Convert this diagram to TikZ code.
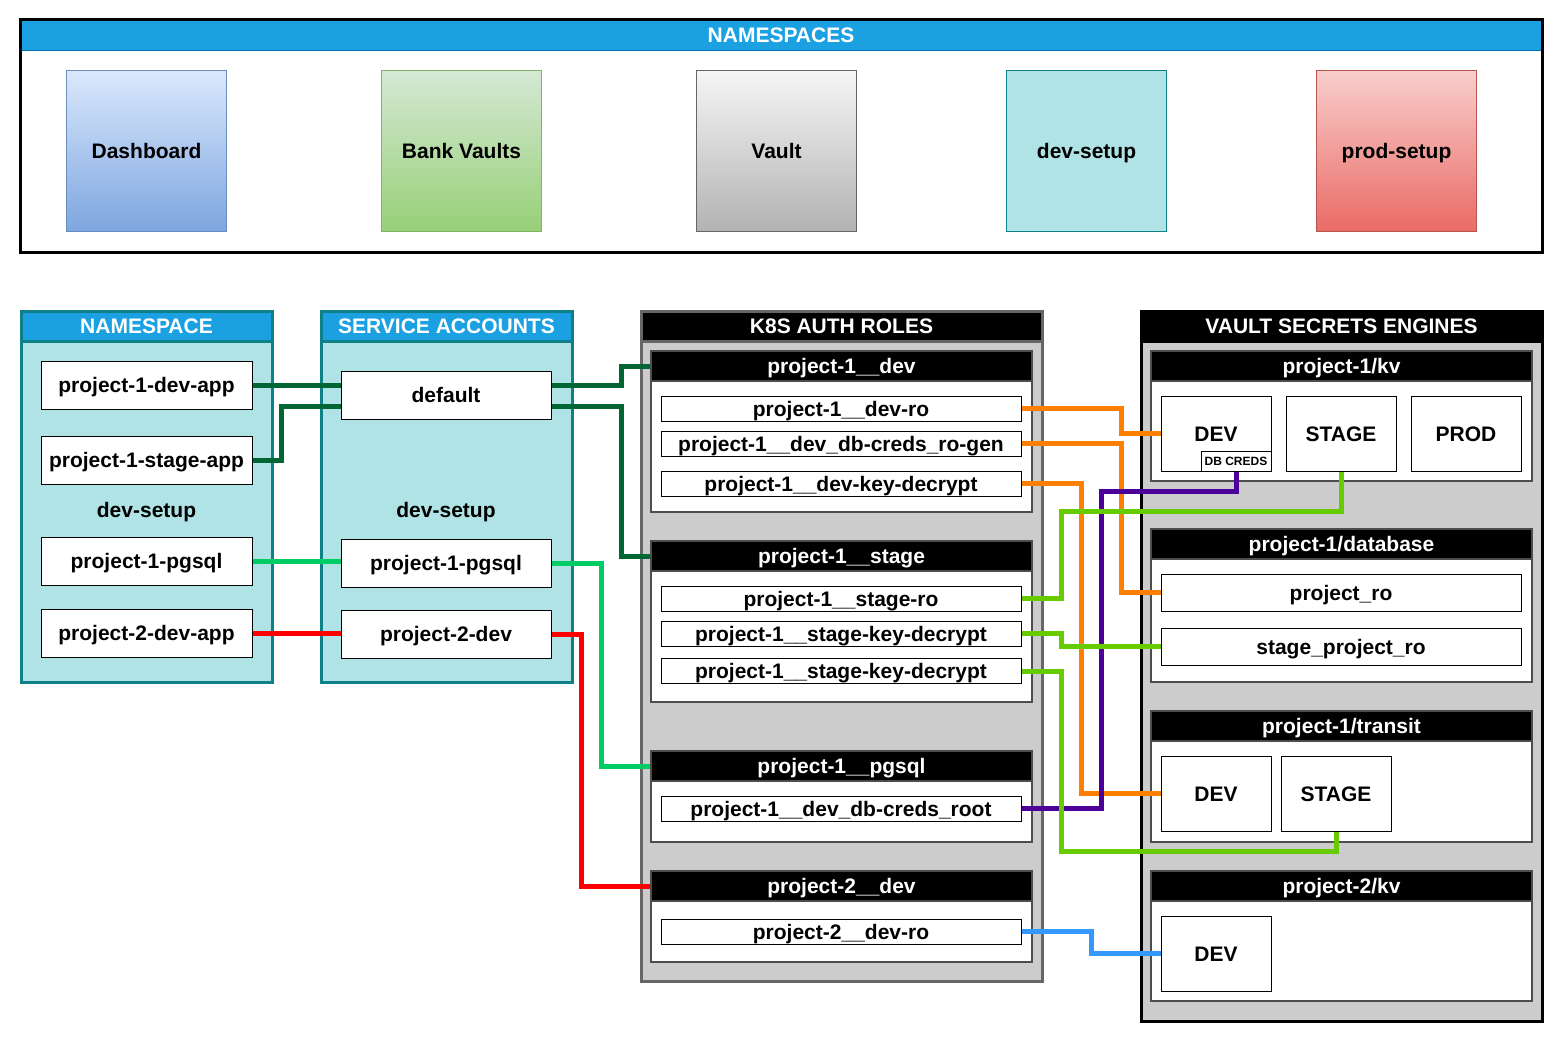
\documentclass[tikz,border=0pt]{standalone}
\usepackage{fontspec}
\setmainfont{Liberation Sans}
\usepackage{tikz}

\definecolor{nsblue}{HTML}{1BA1E2}
\definecolor{nsblueline}{HTML}{006EAF}
\definecolor{tealline}{HTML}{0E8088}
\definecolor{tealfill}{HTML}{B0E3E6}
\definecolor{panelgray}{HTML}{CCCCCC}
\definecolor{panelline}{HTML}{666666}
\definecolor{subline}{HTML}{4D4D4D}
\definecolor{dashtop}{HTML}{DAE8FC}
\definecolor{dashbot}{HTML}{7EA6E0}
\definecolor{dashline}{HTML}{6C8EBF}
\definecolor{banktop}{HTML}{D5E8D4}
\definecolor{bankbot}{HTML}{97D077}
\definecolor{bankline}{HTML}{82B366}
\definecolor{vaulttop}{HTML}{F5F5F5}
\definecolor{vaultbot}{HTML}{B3B3B3}
\definecolor{prodtop}{HTML}{F8CECC}
\definecolor{prodbot}{HTML}{EA6B66}
\definecolor{prodline}{HTML}{B85450}
\definecolor{dkgreen}{HTML}{006633}
\definecolor{ltgreen}{HTML}{00CC66}
\definecolor{orangeline}{HTML}{FF8000}
\definecolor{purpleline}{HTML}{4C0099}
\definecolor{limeline}{HTML}{66CC00}
\definecolor{blueline}{HTML}{3399FF}

\begin{document}
\begin{tikzpicture}[x = 1pt, y = -1pt, line width = 1pt,
    every node/.style = {font = \fontsize{21}{25}\selectfont\bfseries, text height = 15pt, text depth = 0pt, inner sep = 0pt},
    nsbox/.style = {draw, minimum width = 160pt, minimum height = 160pt},
    bluepanel/.style = {draw = tealline, fill = tealfill, line width = 3pt, minimum width = 251pt, minimum height = 371pt},
    bluehdr/.style = {draw = tealline, fill = nsblue, text = white, line width = 3pt, minimum width = 251pt, minimum height = 30pt, anchor = north},
    graypanel/.style = {fill = panelgray, line width = 3pt, minimum width = 401pt},
    blackhdr/.style = {fill = black, text = white, line width = 3pt, minimum width = 401pt, minimum height = 30pt, anchor = north},
    subpanel/.style = {draw = subline, fill = white, line width = 2pt, minimum width = 381pt},
    subhdr/.style = {draw = subline, fill = black, text = white, line width = 2pt, minimum width = 381pt, minimum height = 30pt, anchor = north},
    item/.style = {draw, fill = white, minimum width = 211pt, minimum height = 48pt},
    role/.style = {draw, fill = white, minimum width = 360pt, minimum height = 25pt},
    engine/.style = {draw, fill = white, minimum width = 110pt, minimum height = 75pt},
    link/.style = {line width = 5pt}]
    \useasboundingbox (0, 0) rectangle (1563, 1043);

    % namespaces overview
    \node [fill = white, minimum width = 1521pt, minimum height = 231pt] (nsall) at (781, 136) {};
    \node [fill = nsblue, draw = nsblueline, text = white, minimum width = 1521pt, minimum height = 30pt, anchor = north] (nsallhdr) at (nsall.north) {NAMESPACES};
    \draw [line width = 3pt] (nsall.north west) rectangle (nsall.south east);
    \node [nsbox, draw = dashline, top color = dashtop, bottom color = dashbot] (dashboard) at (146.5, 151) {Dashboard};
    \node [nsbox, draw = bankline, top color = banktop, bottom color = bankbot] (bankvaults) at (461.5, 151) {Bank Vaults};
    \node [nsbox, draw = panelline, top color = vaulttop, bottom color = vaultbot] (vaultns) at (776.5, 151) {Vault};
    \node [nsbox, draw = tealline, fill = tealfill] (devsetup) at (1086.5, 151) {dev-setup};
    \node [nsbox, draw = prodline, top color = prodtop, bottom color = prodbot] (prodsetup) at (1396.5, 151) {prod-setup};

    % namespace and service accounts
    \node [bluepanel] (nspanel) at (146.5, 496.5) {};
    \node [bluehdr] (nshdr) at (nspanel.north) {NAMESPACE};
    \node [item] (devapp) at (146.5, 385) {project-1-dev-app};
    \node [item] (stageapp) at (146.5, 460) {project-1-stage-app};
    \node (nsname) at (146.5, 510) {dev-setup};
    \node [item] (nspgsql) at (146.5, 561) {project-1-pgsql};
    \node [item] (p2devapp) at (146.5, 633) {project-2-dev-app};

    \node [bluepanel] (sapanel) at (446.5, 496.5) {};
    \node [bluehdr] (sahdr) at (sapanel.north) {SERVICE ACCOUNTS};
    \node [item, minimum width = 210pt] (default) at (446, 395) {default};
    \node (saname) at (446, 510) {dev-setup};
    \node [item, minimum width = 210pt] (sapgsql) at (446, 563) {project-1-pgsql};
    \node [item, minimum width = 210pt] (sap2dev) at (446, 634) {project-2-dev};

    % k8s auth roles
    \node [graypanel, draw = panelline, minimum height = 670pt] (k8s) at (841.5, 646) {};
    \node [blackhdr, draw = panelline] (k8shdr) at (k8s.north) {K8S AUTH ROLES};
    \node [subpanel, minimum height = 161pt] (dev) at (841.5, 431.5) {};
    \node [subhdr] (devhdr) at (dev.north) {project-1\_\_dev};
    \node [role] (devro) at (841, 408.5) {project-1\_\_dev-ro};
    \node [role] (rogen) at (841, 443.5) {project-1\_\_dev\_db-creds\_ro-gen};
    \node [role] (devkey) at (841, 483.5) {project-1\_\_dev-key-decrypt};

    \node [subpanel, minimum height = 161pt] (stage) at (841.5, 621.5) {};
    \node [subhdr] (stagehdr) at (stage.north) {project-1\_\_stage};
    \node [role] (stagero) at (841, 598.5) {project-1\_\_stage-ro};
    \node [role] (stagekey) at (841, 633.5) {project-1\_\_stage-key-decrypt};
    \node [role] (stagekeyb) at (841, 671) {project-1\_\_stage-key-decrypt};

    \node [subpanel, minimum height = 91pt] (pgsql) at (841.5, 796.5) {};
    \node [subhdr] (pgsqlhdr) at (pgsql.north) {project-1\_\_pgsql};
    \node [role] (credsroot) at (841, 808.5) {project-1\_\_dev\_db-creds\_root};

    \node [subpanel, minimum height = 91pt] (ptwo) at (841.5, 916.5) {};
    \node [subhdr] (ptwohdr) at (ptwo.north) {project-2\_\_dev};
    \node [role] (ptwodevro) at (841, 931.5) {project-2\_\_dev-ro};

    % vault secrets engines
    \node [graypanel, draw = black, minimum height = 710pt] (vault) at (1341.5, 666) {};
    \node [blackhdr, draw = black] (vaulthdr) at (vault.north) {VAULT SECRETS ENGINES};
    \node [subpanel, minimum height = 130pt] (kv) at (1341.5, 416) {};
    \node [subhdr] (kvhdr) at (kv.north) {project-1/kv};
    \node [engine] (kvdev) at (1216, 433.5) {DEV};
    \node [engine] (kvstage) at (1341, 433.5) {STAGE};
    \node [engine] (kvprod) at (1466, 433.5) {PROD};
    \node [draw, fill = white, minimum width = 70pt, minimum height = 20pt, font = \fontsize{12}{14}\selectfont\bfseries, text height = 8.6pt, anchor = south east] (dbcreds) at (kvdev.south east) {DB CREDS};

    \node [subpanel, minimum height = 153pt] (db) at (1341.5, 605.5) {};
    \node [subhdr] (dbhdr) at (db.north) {project-1/database};
    \node [role, minimum height = 37pt] (projro) at (1341, 592.5) {project\_ro};
    \node [role, minimum height = 37pt] (stageprojro) at (1341, 646.5) {stage\_project\_ro};

    \node [subpanel, minimum height = 131pt] (transit) at (1341.5, 776.5) {};
    \node [subhdr] (transithdr) at (transit.north) {project-1/transit};
    \node [engine] (trdev) at (1216, 793.5) {DEV};
    \node [engine] (trstage) at (1336, 793.5) {STAGE};

    \node [subpanel, minimum height = 130pt] (kvb) at (1341.5, 936) {};
    \node [subhdr] (kvbhdr) at (kvb.north) {project-2/kv};
    \node [engine] (kvbdev) at (1216, 953.5) {DEV};

    % connectors
    \draw [link, dkgreen] (devapp.east) -- ([yshift = 10pt]default.west);
    \draw [link, dkgreen] (stageapp.east) -- ++(29, 0) |- ([yshift = -11pt]default.west);
    \draw [link, dkgreen] ([yshift = 10pt]default.east) -- ++(70, 0) |- (devhdr.west);
    \draw [link, dkgreen] ([yshift = -11pt]default.east) -- ++(70, 0) |- (stagehdr.west);
    \draw [link, ltgreen] (nspgsql.east) -- (nspgsql.east -| sapgsql.west);
    \draw [link, ltgreen] (sapgsql.east) -- ++(50, 0) |- (pgsqlhdr.west);
    \draw [link, red] (p2devapp.east) -- (p2devapp.east -| sap2dev.west);
    \draw [link, red] (sap2dev.east) -- ++(30, 0) |- (ptwohdr.west);
    \draw [link, orangeline] (devro.east) -- ++(100, 0) |- (kvdev.west);
    \draw [link, orangeline] (rogen.east) -- ++(100, 0) |- (projro.west);
    \draw [link, orangeline] (devkey.east) -- ++(60, 0) |- (trdev.west);
    \draw [link, purpleline] (credsroot.east) -- ++(80, 0) |- ([yshift = -20pt]dbcreds.south) -- (dbcreds.south);
    \draw [link, limeline] (stagero.east) -- ++(40, 0) |- ([yshift = -40pt]kvstage.south) -- (kvstage.south);
    \draw [link, limeline] (stagekey.east) -- ++(40, 0) |- (stageprojro.west);
    \draw [link, limeline] (stagekeyb.east) -- ++(40, 0) |- ([yshift = -20pt]trstage.south) -- (trstage.south);
    \draw [link, blueline] (ptwodevro.east) -- ++(70, 0) |- (kvbdev.west);
\end{tikzpicture}
\end{document}
